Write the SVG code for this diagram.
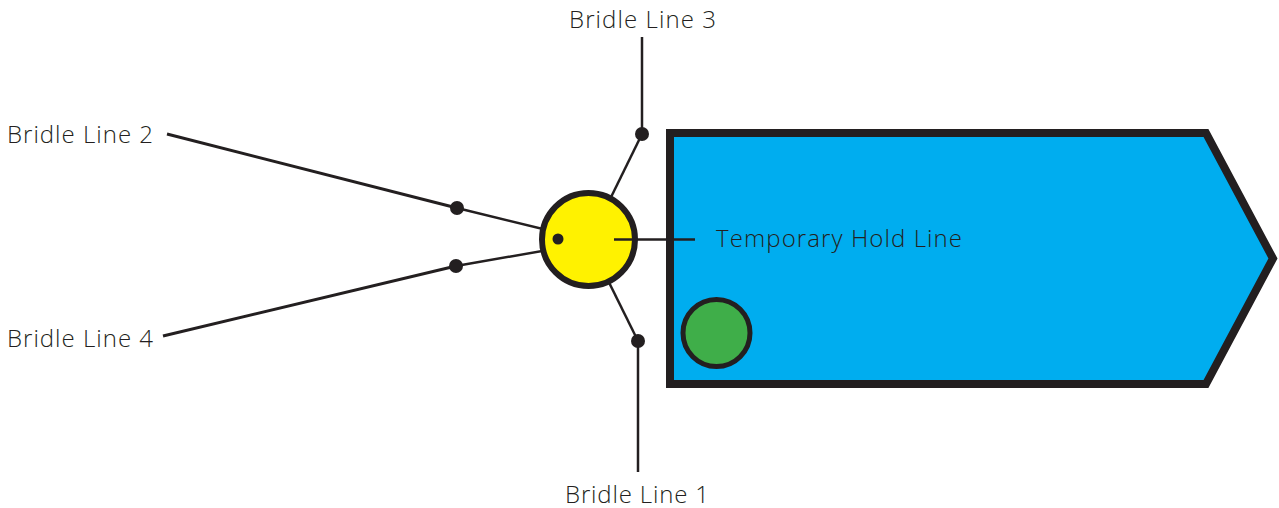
<svg xmlns="http://www.w3.org/2000/svg" width="1279" height="508" viewBox="0 0 1279 508">
  <style>
    .lbl { font-family: "Open Sans", Lato, "Liberation Sans", sans-serif; font-weight: 300; font-size: 24px; fill: #231f20; }
    .ln { stroke: #231f20; fill: none; stroke-linecap: butt; }
    .thick { stroke-width: 3; }
    .thin { stroke-width: 2.5; }
    .dot { fill: #231f20; }
  </style>

  <!-- barge hull -->
  <g id="barge">
    <polygon points="670,133 1206,133 1273,258.5 1206,384 670,384" fill="#00adef" stroke="#231f20" stroke-width="8" stroke-linejoin="miter"/>
  </g>

  <!-- green marker inside the hull -->
  <g id="marker">
    <circle cx="716.5" cy="333" r="33.5" fill="#3fae49" stroke="#231f20" stroke-width="5"/>
  </g>

  <!-- bridle lines and their shackle points -->
  <g id="connectors">
    <line class="ln thick" x1="167" y1="134" x2="457" y2="208"/>
    <line class="ln thin" x1="457" y1="208" x2="588" y2="240"/>
    <line class="ln thick" x1="163" y1="336" x2="456" y2="266"/>
    <line class="ln thin" x1="456" y1="266" x2="588" y2="243"/>
    <line class="ln thin" x1="642" y1="37" x2="642" y2="134"/>
    <line class="ln thin" x1="642" y1="134" x2="590" y2="240"/>
    <line class="ln thin" x1="638" y1="472" x2="638" y2="341"/>
    <line class="ln thin" x1="638" y1="341" x2="588" y2="240"/>
  </g>

  <g id="shackles">
    <circle class="dot" cx="457" cy="208" r="7"/>
    <circle class="dot" cx="456" cy="266" r="7"/>
    <circle class="dot" cx="642" cy="134" r="7"/>
    <circle class="dot" cx="638" cy="341" r="7"/>
  </g>

  <!-- central buoy -->
  <g id="buoy">
    <circle cx="588.5" cy="239.5" r="46.5" fill="#fff200" stroke="#231f20" stroke-width="6"/>
    <circle class="dot" cx="558" cy="239" r="5.5"/>
  </g>

  <!-- temporary hold line -->
  <g id="hold-line">
    <line class="ln thin" x1="614" y1="239.5" x2="695" y2="239.5"/>
    <text class="lbl" x="716" y="247" textLength="246" lengthAdjust="spacing">Temporary Hold Line</text>
  </g>

  <!-- labels -->
  <g id="label-3"><text class="lbl" x="569" y="28" textLength="147" lengthAdjust="spacing">Bridle Line 3</text></g>
  <g id="label-2"><text class="lbl" x="7" y="143" textLength="146" lengthAdjust="spacing">Bridle Line 2</text></g>
  <g id="label-4"><text class="lbl" x="7" y="347" textLength="146" lengthAdjust="spacing">Bridle Line 4</text></g>
  <g id="label-1"><text class="lbl" x="565" y="503" textLength="144" lengthAdjust="spacing">Bridle Line 1</text></g>
</svg>
